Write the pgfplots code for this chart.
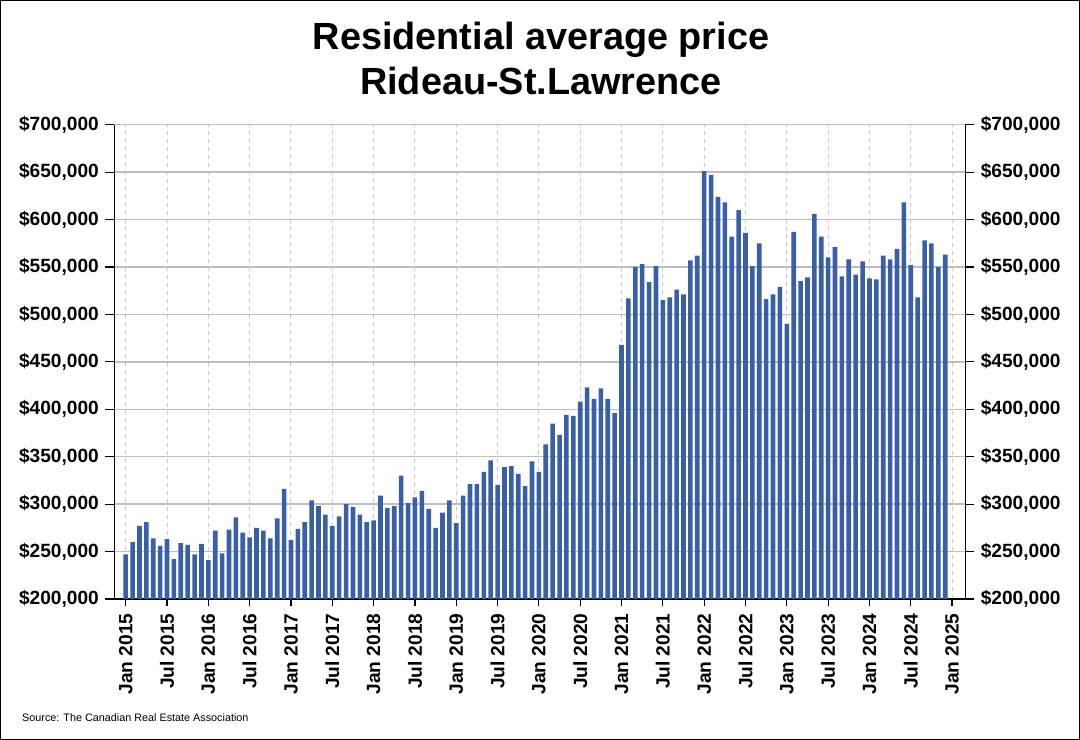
\documentclass[border=0pt]{standalone}
\usepackage{fontspec}
\setmainfont{Liberation Sans}
\usepackage{pgfplots}
\pgfplotsset{compat=1.18}
\usepackage{pgfplotstable}
\definecolor{barblue}{RGB}{56,95,168}
\definecolor{hgrid}{RGB}{190,190,190}
\definecolor{vgrid}{RGB}{200,200,200}
\pgfplotstableread{
x y
0 247000
1 260000
2 277000
3 281000
4 264000
5 256000
6 263000
7 242000
8 259000
9 257000
10 247000
11 258000
12 241000
13 272000
14 248000
15 273000
16 286000
17 270000
18 265000
19 275000
20 272000
21 264000
22 285000
23 316000
24 262000
25 274000
26 281000
27 304000
28 298000
29 289000
30 277000
31 287000
32 300000
33 297000
34 289000
35 281000
36 283000
37 309000
38 296000
39 298000
40 330000
41 301000
42 307000
43 314000
44 295000
45 275000
46 291000
47 304000
48 280000
49 309000
50 321000
51 321000
52 334000
53 346000
54 320000
55 339000
56 340000
57 332000
58 319000
59 345000
60 334000
61 363000
62 385000
63 373000
64 394000
65 393000
66 408000
67 423000
68 411000
69 422000
70 411000
71 396000
72 468000
73 517000
74 550000
75 553000
76 534000
77 551000
78 515000
79 518000
80 526000
81 521000
82 557000
83 562000
84 651000
85 647000
86 624000
87 618000
88 582000
89 610000
90 586000
91 551000
92 575000
93 516000
94 521000
95 529000
96 490000
97 587000
98 535000
99 539000
100 606000
101 582000
102 560000
103 571000
104 540000
105 558000
106 542000
107 556000
108 538000
109 537000
110 562000
111 558000
112 569000
113 618000
114 552000
115 518000
116 578000
117 575000
118 550000
119 563000
}\prices
\begin{document}
\begin{tikzpicture}[x=1bp,y=1bp]
\path[use as bounding box] (0,0) rectangle (1080,740);
\draw[black,line width=1.2bp] (0.6,0.6) rectangle (1079.4,739.4);
\node[anchor=base,font=\fontsize{38}{40}\selectfont\bfseries] at (541,690.7) {Residential average price};
\node[anchor=base,font=\fontsize{38}{40}\selectfont\bfseries] at (541,645) {Rideau-St.Lawrence};
\node[anchor=base west,inner sep=0pt,font=\fontsize{10.85}{12}\selectfont] at (22,18) {Source: The Canadian Real Estate Association};
\pgfplotsset{
  common/.style={
    scale only axis,
    width=851bp, height=474.3bp,
    at={(114.3bp,141bp)}, anchor=south west,
    xmin=-1.655, xmax=121.92,
    ymin=200000, ymax=700000,
    ytick={200000,250000,...,700000},
    yticklabels={{\$200,000},{\$250,000},{\$300,000},{\$350,000},{\$400,000},{\$450,000},{\$500,000},{\$550,000},{\$600,000},{\$650,000},{\$700,000}},
    scaled y ticks=false,
    tick align=outside,
    ticklabel style={font=\fontsize{19.2}{21}\selectfont\bfseries},
    axis line style={black,line width=1.2bp},
    tick style={black,line width=1.2bp},
    ytick style={/pgfplots/major tick length=9bp},
    xtick style={/pgfplots/major tick length=7bp},
    yticklabel shift=9bp,
  }
}
\begin{axis}[common,
  axis x line*=bottom, axis y line*=left,
  xtick={0,6,...,120},
  xticklabels={Jan 2015,Jul 2015,Jan 2016,Jul 2016,Jan 2017,Jul 2017,Jan 2018,Jul 2018,Jan 2019,Jul 2019,Jan 2020,Jul 2020,Jan 2021,Jul 2021,Jan 2022,Jul 2022,Jan 2023,Jul 2023,Jan 2024,Jul 2024,Jan 2025},
  x tick label style={rotate=90,anchor=east,inner sep=2bp},
  xticklabel shift=8bp,
  y tick label style={anchor=east,inner sep=2bp},
  xmajorgrids, ymajorgrids,
  x grid style={vgrid,dash pattern=on 4bp off 4bp,line width=1bp},
  y grid style={hgrid,line width=1.4bp},
]
\addplot[ybar, bar width=4.6bp, bar shift=0pt, fill=barblue, draw=none] table[x=x,y=y] {\prices};
\end{axis}
\begin{axis}[common,
  axis x line=none, axis y line*=right,
  y tick label style={anchor=west,inner sep=2bp},
]
\addplot[draw=none] coordinates {(0,300000)};
\end{axis}
\end{tikzpicture}
\end{document}
